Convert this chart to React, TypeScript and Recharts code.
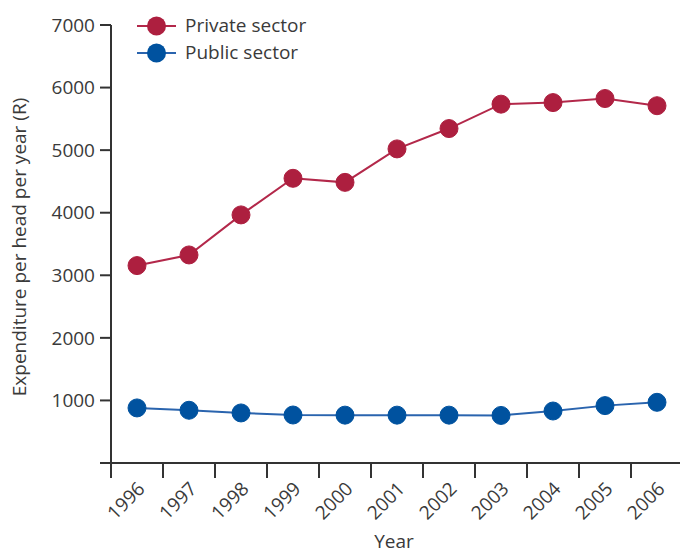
import React from 'react';
import { LineChart, Line, XAxis, YAxis, Legend } from 'recharts';

const years = [1996, 1997, 1998, 1999, 2000, 2001, 2002, 2003, 2004, 2005, 2006];
const privateSector = [3155, 3325, 3965, 4550, 4485, 5020, 5345, 5735, 5760, 5825, 5710];
const publicSector = [880, 843, 800, 767, 765, 765, 765, 760, 831, 917, 970];
const yTicks = [0, 1000, 2000, 3000, 4000, 5000, 6000, 7000];

// tick marks sit on the year boundaries, labels on the years
const boundaryTicks = years.map(y => y - 0.5);
const xTicks = [...boundaryTicks, ...years].sort((a, b) => a - b);

const data = years.map((year, i) => ({
  year,
  private: privateSector[i],
  public: publicSector[i],
}));

const series = [
  { key: 'private', name: 'Private sector', line: '#B3284A', dot: '#AD1F3F' },
  { key: 'public', name: 'Public sector', line: '#2A64AE', dot: '#00529F' },
];

const AXIS = '#333333';
const TEXT = '#3a3a3a';
const FONT = 19;

const XTick = (props: any) => {
  const { x, y, payload } = props;
  const v = payload.value;
  if (!Number.isInteger(v)) {
    return <line x1={x} x2={x} y1={y} y2={y + 15} stroke={AXIS} strokeWidth={2} />;
  }
  const tx = x + 9;
  const ty = y + 27;
  return (
    <text x={tx} y={ty} textAnchor="end" fill={TEXT} fontSize={FONT} transform={`rotate(-45 ${tx} ${ty})`}>
      {v}
    </text>
  );
};

const renderLegend = () => (
  <div>
    {series.map(s => (
      <div key={s.key} style={{ display: 'flex', alignItems: 'center', height: 27 }}>
        <svg width={40} height={22}>
          <line x1={0} x2={39} y1={11} y2={11} stroke={s.line} strokeWidth={2} />
          <circle cx={19.5} cy={11} r={9.5} fill={s.dot} />
        </svg>
        <span style={{ marginLeft: 8, fontSize: FONT, color: TEXT, lineHeight: '27px' }}>{s.name}</span>
      </div>
    ))}
  </div>
);

export default function App() {
  return (
    <div
      style={{
        position: 'absolute',
        left: 0,
        top: 0,
        width: 680,
        height: 554,
        overflow: 'hidden',
        background: '#fff',
        fontFamily: '"Open Sans", sans-serif',
      }}
    >
      <LineChart width={690} height={554} data={data} margin={{ top: 25, right: 7, bottom: 0, left: 0 }}>
        <XAxis
          dataKey="year"
          type="number"
          domain={[1995.5, 2006.5]}
          ticks={xTicks}
          interval={0}
          tick={XTick}
          tickLine={false}
          tickSize={0}
          tickMargin={0}
          axisLine={{ stroke: AXIS, strokeWidth: 2 }}
          height={91}
          label={{ value: 'Year', position: 'insideBottom', offset: 6, dx: -3, fill: TEXT, fontSize: FONT }}
        />
        <YAxis
          type="number"
          domain={[0, 7000]}
          ticks={yTicks}
          interval={0}
          width={111}
          tickSize={11}
          tickMargin={5}
          tickFormatter={(v: number) => (v === 0 ? '' : String(v))}
          tick={{ fill: TEXT, fontSize: FONT }}
          tickLine={{ stroke: AXIS, strokeWidth: 2 }}
          axisLine={{ stroke: AXIS, strokeWidth: 2 }}
          label={{
            value: 'Expenditure per head per year (R)',
            angle: -90,
            position: 'center',
            dx: -36,
            dy: 3,
            fill: TEXT,
            fontSize: FONT,
          }}
        />
        <Legend
          content={renderLegend}
          layout="horizontal"
          verticalAlign="middle"
          align="center"
          wrapperStyle={{ left: 137, top: 12, width: 'auto' }}
        />
        {series.map(s => (
          <Line
            key={s.key}
            dataKey={s.key}
            name={s.name}
            type="linear"
            stroke={s.line}
            strokeWidth={2}
            dot={{ r: 9, fill: s.dot, stroke: s.dot, strokeWidth: 1 }}
            activeDot={false}
            isAnimationActive={false}
          />
        ))}
      </LineChart>
    </div>
  );
}
